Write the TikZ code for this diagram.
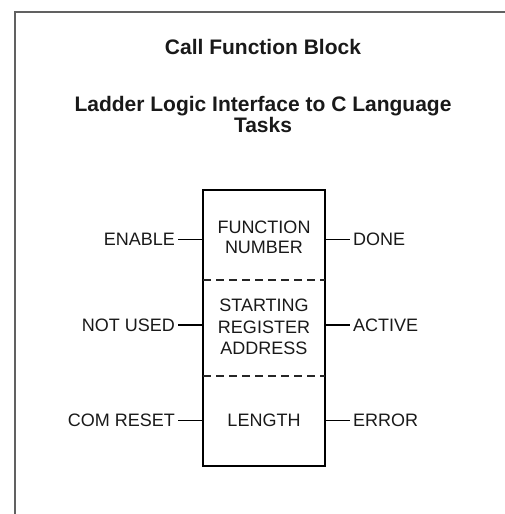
\documentclass[tikz,border=0pt]{standalone}
\usepackage{fontspec}
\setmainfont{Liberation Sans}
\begin{document}
\begin{tikzpicture}[x=1pt,y=-1pt,
  frame/.style={draw=black!62, line width=1.6pt},
  blockbox/.style={draw=black, line width=1.5pt, minimum width=122pt, minimum height=276pt, inner sep=0pt},
  divider/.style={draw=black!85, line width=1.5pt, dash pattern=on 8pt off 5pt},
  title/.style={font=\fontsize{21}{21}\selectfont\bfseries, align=center, text=black!90, inner sep=0pt},
  celltext/.style={font=\fontsize{18}{20}\selectfont, align=center, text=black!90, inner sep=0pt},
  pinlabel/.style={font=\fontsize{18}{20}\selectfont, text=black!90, text height=12.9pt, text depth=0pt, inner xsep=3pt, inner ysep=0pt},
  wire/.style={draw=black, line width=1.3pt}]
\useasboundingbox (0,0) rectangle (504,514);
% outer frame (cut off at right and bottom)
\draw[frame] (15,520) -- (15,12) -- (510,12);
% titles
\node[title, anchor=base] (t1) at (263,54) {Call Function Block};
\node[title, anchor=base] (t2) at (263,132) {Ladder Logic Interface to C Language\\Tasks};
% block
\node[blockbox] (box) at (264,328) {};
\draw[divider] (203,280) -- (325,280);
\draw[divider] (203,376) -- (325,376);
\node[celltext] (c1) at (264,237) {FUNCTION\\NUMBER};
\node[celltext, font=\fontsize{18}{21.5}\selectfont] (c2) at (264,327) {STARTING\\REGISTER\\ADDRESS};
\node[celltext] (c3) at (264,420) {LENGTH};
% pin coordinates on the box
\coordinate (l1) at (box.west |- 0,239.5);
\coordinate (l2) at (box.west |- 0,325);
\coordinate (l3) at (box.west |- 0,420.5);
\coordinate (r1) at (box.east |- 0,239.5);
\coordinate (r2) at (box.east |- 0,325);
\coordinate (r3) at (box.east |- 0,420.5);
% left labels
\node[pinlabel, anchor=east] (en) at (178,239.5) {ENABLE};
\node[pinlabel, anchor=east] (nu) at (178,325) {NOT USED};
\node[pinlabel, anchor=east] (cr) at (178,420.5) {COM RESET};
% right labels
\node[pinlabel, anchor=west] (dn) at (350,239.5) {DONE};
\node[pinlabel, anchor=west] (ac) at (350,325) {ACTIVE};
\node[pinlabel, anchor=west] (er) at (350,420.5) {ERROR};
% wires
\draw[wire] (en) -- (l1);
\draw[wire] (nu) -- (l2);
\draw[wire] (cr) -- (l3);
\draw[wire] (r1) -- (dn);
\draw[wire] (r2) -- (ac);
\draw[wire] (r3) -- (er);
\end{tikzpicture}
\end{document}
